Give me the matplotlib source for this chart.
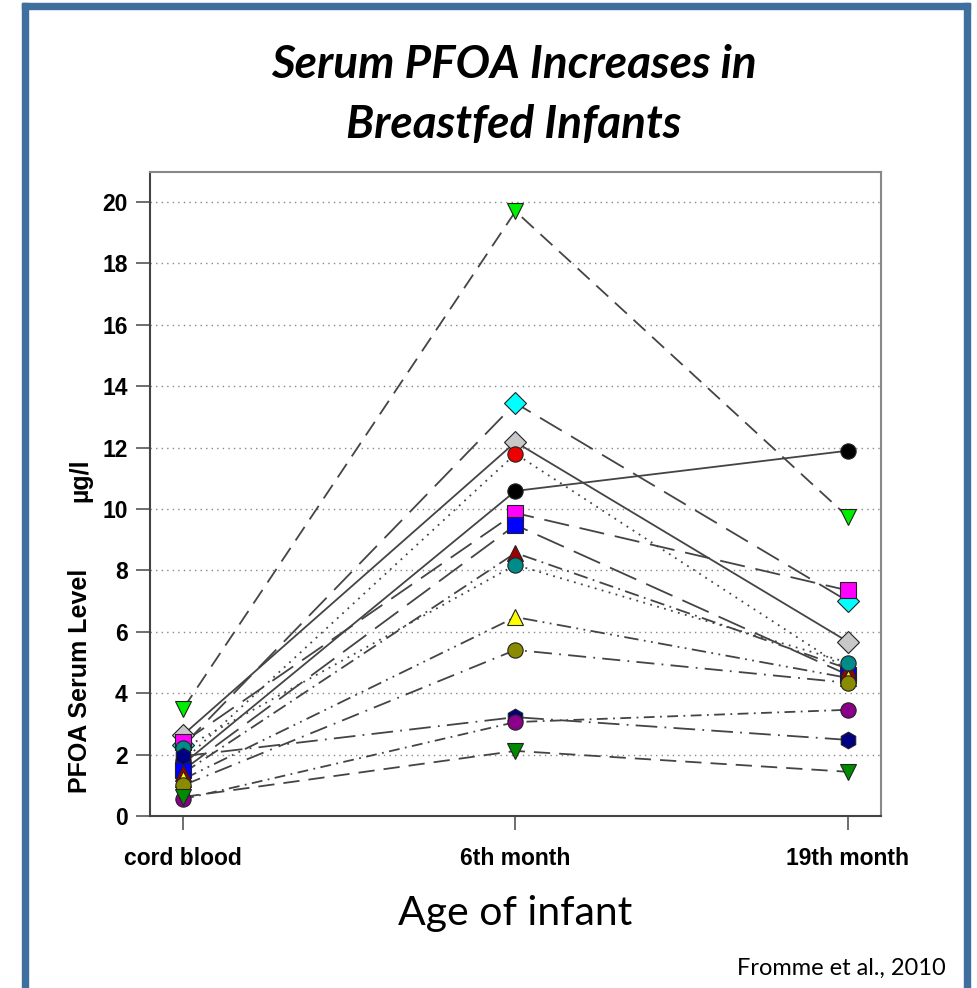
import matplotlib
matplotlib.use("Agg")
import matplotlib.pyplot as plt
from matplotlib.patches import Rectangle

# ages of infant (x categories)
ages = ["cord blood", "6th month", "19th month"]

# PFOA serum level (ug/l) per infant: cord blood, 6th month, 19th month
green_tri = [3.5, 19.7, 9.75]
cyan_dia = [2.3, 13.45, 7.0]
gray_dia = [2.65, 12.18, 5.68]
red_circ = [1.8, 11.8, 4.75]
black_circ = [1.7, 10.59, 11.9]
magenta_sq = [2.4, 9.87, 7.35]
blue_sq = [1.5, 9.48, 4.6]
darkred_tri = [1.4, 8.57, 4.8]
teal_circ = [2.2, 8.18, 5.0]
yellow_tri = [1.2, 6.48, 4.5]
olive_circ = [1.0, 5.41, 4.34]
navy_hex = [1.95, 3.22, 2.48]
purple_circ = [0.55, 3.06, 3.46]
dkgreen_tri = [0.62, 2.12, 1.44]

series = [
    (green_tri, "v", "#00ee00", (0, (9, 5))),
    (cyan_dia, "D", "#00ffff", (0, (14, 6))),
    (gray_dia, "D", "#c8c8c8", "-"),
    (red_circ, "o", "#ee0000", (0, (1, 3))),
    (black_circ, "o", "#000000", "-"),
    (magenta_sq, "s", "#ff00ff", (0, (14, 6))),
    (blue_sq, "s", "#0000ff", (0, (16, 6))),
    (darkred_tri, "^", "#a00000", (0, (8, 3, 1, 3))),
    (teal_circ, "o", "#008b8b", (0, (1, 3))),
    (yellow_tri, "^", "#ffff00", (0, (8, 3, 1, 3, 1, 3))),
    (olive_circ, "o", "#8b8b00", (0, (10, 4, 1, 4))),
    (navy_hex, "h", "#000080", (0, (12, 4, 1, 4))),
    (purple_circ, "o", "#8b008b", (0, (6, 3, 1, 3))),
    (dkgreen_tri, "v", "#008b00", (0, (9, 5))),
]

fig = plt.figure(figsize=(9.78, 9.88), dpi=100)

# blue slide frame (no bottom edge)
fc = "#3f6f9f"
fig.patches.append(Rectangle((22 / 978, 0), 6 / 978, 1 - 3 / 988, transform=fig.transFigure, color=fc))
fig.patches.append(Rectangle((964 / 978, 0), 6 / 978, 1 - 3 / 988, transform=fig.transFigure, color=fc))
fig.patches.append(Rectangle((22 / 978, 1 - 9 / 988), 948 / 978, 6 / 988, transform=fig.transFigure, color=fc))

ax = fig.add_axes([150 / 978, 1 - 816 / 988, 731 / 978, 644 / 988])
x = range(len(ages))
for vals, mk, col, ls in series:
    ax.plot(x, vals, color="#444444", lw=1.3, ls=ls, zorder=2)
for vals, mk, col, ls in series:
    ax.plot(x, vals, ls="none", marker=mk, ms=11 if mk != "h" else 12,
            mfc=col, mec="#222222", mew=0.8, zorder=3)

ax.set_xlim(-0.1, 2.1)
ax.set_ylim(0, 20.98)
ax.set_yticks(range(0, 21, 2))
ax.set_xticks(list(x))
ax.set_xticklabels(ages)
ax.yaxis.grid(True, ls=(0, (1, 3)), color="#888888", lw=1)
ax.set_axisbelow(True)
for s in ax.spines.values():
    s.set_color("#888888")
    s.set_linewidth(1.5)
ax.spines["left"].set_color("#444444")
ax.spines["bottom"].set_color("#444444")
ax.tick_params(length=10, width=1.2, color="#555555", pad=6)
for lab in ax.get_xticklabels() + ax.get_yticklabels():
    lab.set_fontfamily(["Liberation Sans", "DejaVu Sans"])
    lab.set_fontweight("bold")
    lab.set_fontsize(16.5)
ax.tick_params(axis="x", pad=12)

ylab_font = ["Liberation Sans", "DejaVu Sans"]
fig.text(80 / 978, 1 - 681 / 988, "PFOA Serum Level", rotation=90,
         ha="center", va="center", fontsize=18, fontweight="bold", family=ylab_font)
fig.text(80 / 978, 1 - 480 / 988, "\u00b5g/l", rotation=90,
         ha="center", va="center", fontsize=18, fontweight="bold", family=ylab_font)

title_font = ["Lato", "DejaVu Sans"]
fig.text(514 / 978, 1 - 65 / 988, "Serum PFOA Increases in", ha="center", va="center",
         fontsize=33, fontweight="bold", fontstyle="italic", family=title_font)
fig.text(514 / 978, 1 - 125 / 988, "Breastfed Infants", ha="center", va="center",
         fontsize=33, fontweight="bold", fontstyle="italic", family=title_font)
fig.text(515 / 978, 1 - 913 / 988, "Age of infant", ha="center", va="center",
         fontsize=29.5, family=title_font)
fig.text(841 / 978, 1 - 968 / 988, "Fromme et al., 2010", ha="center", va="center",
         fontsize=17, family=title_font)

fig.savefig("out.png", dpi=100)
